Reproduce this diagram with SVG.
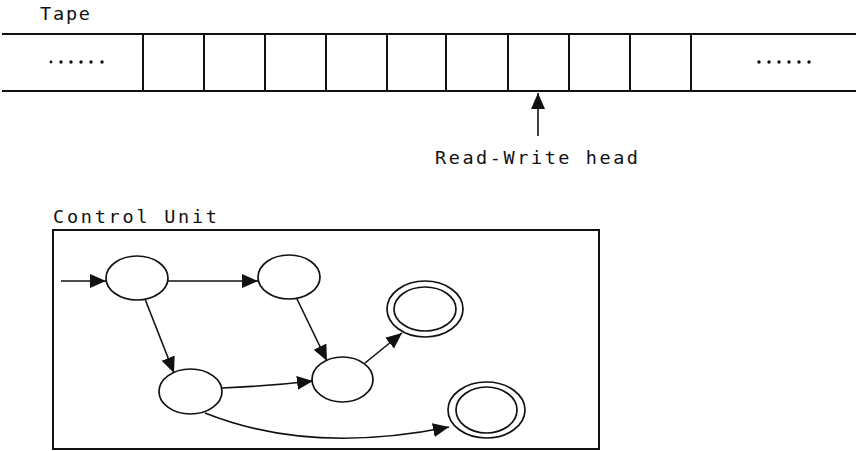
<svg xmlns="http://www.w3.org/2000/svg" width="858" height="451" viewBox="0 0 858 451">
<style>
.t{font-family:"DejaVu Sans Mono","Liberation Mono",monospace;font-size:18.5px;fill:#111}
.ln{stroke:#111;stroke-width:2;fill:none}
.st{stroke:#111;stroke-width:1.7;fill:#fff}
.ed{stroke:#111;stroke-width:1.6;fill:none}
</style>
<defs>
<marker id="ah" markerUnits="userSpaceOnUse" markerWidth="18" markerHeight="15" refX="16" refY="7" orient="auto">
<path d="M0,0 L16,7 L0,14 Z" fill="#111"/>
</marker>
</defs>
<rect width="858" height="451" fill="#fff"/>
<g id="tape">
<text class="t" x="40" y="20" textLength="50">Tape</text>
<line class="ln" x1="2" y1="34" x2="856" y2="34"/>
<line class="ln" x1="2" y1="91" x2="856" y2="91"/>
<g class="ln">
<line x1="143" y1="34" x2="143" y2="91"/>
<line x1="204" y1="34" x2="204" y2="91"/>
<line x1="265" y1="34" x2="265" y2="91"/>
<line x1="326" y1="34" x2="326" y2="91"/>
<line x1="387" y1="34" x2="387" y2="91"/>
<line x1="446" y1="34" x2="446" y2="91"/>
<line x1="508" y1="34" x2="508" y2="91"/>
<line x1="569" y1="34" x2="569" y2="91"/>
<line x1="630" y1="34" x2="630" y2="91"/>
<line x1="691" y1="34" x2="691" y2="91"/>
</g>
<g fill="#111">
<circle cx="51" cy="62" r="1.4"/><circle cx="61" cy="62" r="1.7"/><circle cx="71" cy="62" r="1.7"/><circle cx="81" cy="62" r="1.7"/><circle cx="91" cy="62" r="1.7"/><circle cx="102" cy="62" r="1.7"/>
<circle cx="759" cy="62" r="1.7"/><circle cx="769" cy="62" r="1.7"/><circle cx="779" cy="62" r="1.7"/><circle cx="789" cy="62" r="1.7"/><circle cx="799" cy="62" r="1.7"/><circle cx="809" cy="62" r="1.7"/>
</g>
</g>
<g id="head">
<line class="ed" x1="538" y1="136" x2="538" y2="93" marker-end="url(#ah)"/>
<text class="t" x="435" y="164" textLength="203">Read-Write head</text>
</g>
<g id="control-unit">
<text class="t" x="53" y="223" textLength="164">Control Unit</text>
<rect x="53" y="230" width="546" height="219" fill="none" stroke="#111" stroke-width="2"/>
</g>
<g id="s1"><ellipse class="st" cx="137" cy="278" rx="31" ry="22"/></g>
<g id="s2"><ellipse class="st" cx="289" cy="277" rx="31" ry="22"/></g>
<g id="s3"><ellipse class="st" cx="190.5" cy="391.5" rx="31.5" ry="22.5"/></g>
<g id="s4"><ellipse class="st" cx="342.5" cy="379.5" rx="30.5" ry="22.5"/></g>
<g id="f1"><ellipse class="st" cx="425" cy="309" rx="38" ry="28"/><ellipse class="st" cx="425" cy="309" rx="31" ry="22"/></g>
<g id="f2"><ellipse class="st" cx="486.5" cy="410" rx="38.5" ry="28"/><ellipse class="st" cx="486.5" cy="410" rx="30.5" ry="23"/></g>
<g id="edges" class="ed">
<line x1="61" y1="281" x2="106" y2="281" marker-end="url(#ah)"/>
<line x1="168" y1="281" x2="258" y2="281" marker-end="url(#ah)"/>
<line x1="145" y1="299" x2="174" y2="373" marker-end="url(#ah)"/>
<line x1="297" y1="299" x2="327" y2="361" marker-end="url(#ah)"/>
<path d="M222,388 Q270,386 313,381" marker-end="url(#ah)"/>
<line x1="365" y1="363" x2="402" y2="333" marker-end="url(#ah)"/>
<path d="M205,413 Q310,455 449,427" marker-end="url(#ah)"/>
</g>
</svg>
